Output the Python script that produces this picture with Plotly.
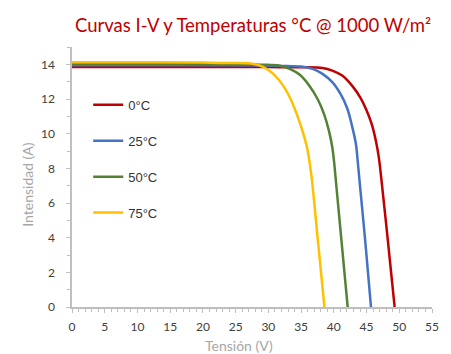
import plotly.graph_objects as go

# I-V curves of a PV module at 1000 W/m² for several cell temperatures
labels = ["0°C", "25°C", "50°C", "75°C"]
colors = ["#C00000", "#4472C4", "#548235", "#FFC000"]

v_0 = [0, 15, 30, 35, 38.27, 39.77, 41.28, 42.78, 44.03, 45.03, 45.79, 46.43, 46.88, 47.24, 48.19, 49.29]
i_0 = [13.85, 13.85, 13.84, 13.83, 13.79, 13.64, 13.35, 12.77, 12.10, 11.32, 10.55, 9.58, 8.62, 7.46, 4.08, 0]

v_25 = [0, 15, 28, 32, 35.27, 36.77, 38.27, 39.77, 41.02, 42.03, 42.78, 43.38, 43.65, 43.88, 44.8, 45.68]
i_25 = [13.95, 13.95, 13.93, 13.91, 13.86, 13.74, 13.45, 12.97, 12.29, 11.48, 10.45, 9.39, 8.41, 7.48, 3.8, 0]

v_50 = [0, 15, 25, 29, 31.75, 33.25, 34.76, 36.26, 37.52, 38.51, 39.26, 39.77, 40.08, 40.27, 41.2, 42.12]
i_50 = [14.03, 14.03, 14.01, 13.98, 13.92, 13.74, 13.41, 12.77, 12.0, 11.13, 10.16, 9.20, 8.23, 7.46, 3.7, 0]

v_75 = [0, 12, 20, 24, 27.75, 29.26, 30.76, 32.26, 33.51, 34.52, 35.36, 36.02, 36.41, 36.62, 37.6, 38.57]
i_75 = [14.12, 14.12, 14.10, 14.08, 14.02, 13.84, 13.45, 12.77, 11.90, 10.94, 9.97, 9.00, 8.04, 7.46, 3.7, 0]

series_v = [v_0, v_25, v_50, v_75]
series_i = [i_0, i_25, i_50, i_75]

x_ticks = list(range(0, 56, 5))
y_ticks = list(range(0, 15, 2))

TITLE = "Curvas I-V y Temperaturas °C @ 1000 W/m²"
X_TITLE = "Tensión (V)"
Y_TITLE = "Intensidad (A)"

fig = go.Figure()
for name, col, vv, ii in zip(labels, colors, series_v, series_i):
    fig.add_trace(go.Scatter(
        x=vv, y=ii, name=name, mode="lines",
        line=dict(color=col, width=2.5, shape="spline", smoothing=1.0),
        legendgroup=name,
    ))

axis_col = "#BFBFBF"
base_font = "Lato, Calibri, sans-serif"
tick_font = dict(family=base_font, size=12, color="#404040")

fig.update_xaxes(
    range=[0, 55], tickvals=x_ticks, ticks="outside", ticklen=4, tickcolor=axis_col,
    showline=True, linecolor=axis_col, linewidth=1.5, showgrid=False, zeroline=False,
    tickfont=tick_font, ticklabelstandoff=4,
    minor=dict(dtick=1, ticks="outside", ticklen=3, tickcolor=axis_col, showgrid=False),
)
fig.update_yaxes(
    range=[0, 15], tickvals=y_ticks, ticks="outside", ticklen=4, tickcolor=axis_col,
    showline=True, linecolor=axis_col, linewidth=1.5, showgrid=False, zeroline=False,
    tickfont=tick_font, ticklabelstandoff=9,
    minor=dict(dtick=1, ticks="outside", ticklen=3, tickcolor=axis_col, showgrid=False),
)

# Margins (px) around the plotting area
ML, MR, MT, MB = 72, 13, 47, 47
W, H = 451, 354
plot_w, plot_h = W - ML - MR, H - MT - MB


def px_to_paper(px, py):
    return (px - ML) / plot_w, (H - MB - py) / plot_h


tx, ty = px_to_paper(256, 25)
xt, yt = px_to_paper(242, 345)
yx, yy = px_to_paper(26, 184)

fig.update_layout(
    width=W, height=H,
    margin=dict(l=ML, r=MR, t=MT, b=MB),
    paper_bgcolor="white", plot_bgcolor="white",
    showlegend=True,
    legend=dict(
        x=0.045, y=0.835, xanchor="left", yanchor="top",
        bgcolor="rgba(0,0,0,0)", borderwidth=0,
        tracegroupgap=16,
        font=dict(family="Liberation Sans, Arial, sans-serif", size=13, color="#333333"),
    ),
    annotations=[
        dict(text=TITLE, x=tx, y=ty, xref="paper", yref="paper",
             xanchor="center", yanchor="middle", showarrow=False,
             font=dict(family=base_font, size=18.5, color="#C00000")),
        dict(text=X_TITLE, x=xt, y=yt, xref="paper", yref="paper",
             xanchor="center", yanchor="middle", showarrow=False,
             font=dict(family=base_font, size=14, color="#A6A6A6")),
        dict(text=Y_TITLE, x=yx, y=yy, xref="paper", yref="paper", textangle=-90,
             xanchor="center", yanchor="middle", showarrow=False,
             font=dict(family=base_font, size=14, color="#A6A6A6")),
    ],
)

fig.write_html("out.html")
